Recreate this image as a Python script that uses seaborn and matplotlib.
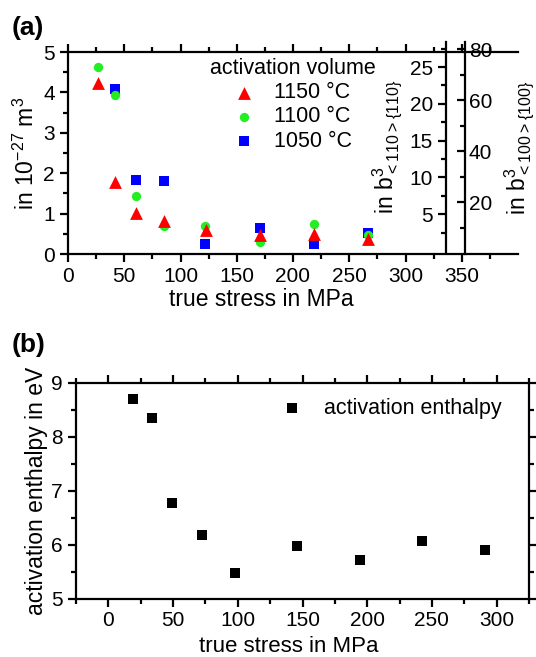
import numpy as np
import pandas as pd
import matplotlib
matplotlib.use("Agg")
import matplotlib.pyplot as plt
from matplotlib.ticker import MultipleLocator, FixedLocator
import seaborn as sns

# ---- data ----
temps = ["1150 °C", "1100 °C", "1050 °C"]
stress_1150 = [26.3, 41.6, 60.8, 85.0, 122.7, 170.8, 218.6, 267.0]
vol_1150 = [4.24, 1.79, 1.01, 0.82, 0.59, 0.47, 0.49, 0.38]
stress_1100 = [26.3, 41.6, 60.8, 85.0, 121.8, 170.8, 218.6, 267.0]
vol_1100 = [4.62, 3.94, 1.44, 0.69, 0.70, 0.29, 0.74, 0.46]
stress_1050 = [41.6, 60.8, 85.0, 121.8, 170.8, 218.6, 267.0]
vol_1050 = [4.08, 1.82, 1.80, 0.25, 0.64, 0.24, 0.51]

stress_b = [19.3, 33.9, 48.8, 72.4, 97.6, 145.9, 194.4, 242.7, 291.0]
enthalpy_b = [8.71, 8.35, 6.77, 6.19, 5.48, 5.99, 5.73, 6.08, 5.91]

colors = {"1150 °C": "#ff0000", "1100 °C": "#22ee22", "1050 °C": "#0000ff"}
markers = {"1150 °C": "^", "1100 °C": "o", "1050 °C": "s"}
sizes_pt = {"1150 °C": 85, "1100 °C": 45, "1050 °C": 55}

df_a = pd.concat([
    pd.DataFrame({"stress": stress_1150, "vol": vol_1150, "T": temps[0]}),
    pd.DataFrame({"stress": stress_1100, "vol": vol_1100, "T": temps[1]}),
    pd.DataFrame({"stress": stress_1050, "vol": vol_1050, "T": temps[2]}),
], ignore_index=True)
df_b = pd.DataFrame({"stress": stress_b, "H": enthalpy_b})

sns.set_style("ticks")
plt.rcParams["font.family"] = ["Liberation Sans", "DejaVu Sans"]
plt.rcParams["mathtext.default"] = "regular"
plt.rcParams["axes.linewidth"] = 1.6
for k in ["text.color", "axes.labelcolor", "xtick.color", "ytick.color",
          "xtick.labelcolor", "ytick.labelcolor", "axes.edgecolor"]:
    plt.rcParams[k] = "black"

W, H = 536, 657
fig = plt.figure(figsize=(W / 100, H / 100), dpi=100)

def fr(l, t, r, b):
    return [l / W, 1 - b / H, (r - l) / W, (b - t) / H]

TICK = 15
LAB = 16.5

# ---------------- panel (a) ----------------
ax = fig.add_axes(fr(68, 52, 518, 254))
for T in temps[::-1]:   # blue drawn first, red on top
    sub = df_a[df_a["T"] == T]
    sns.scatterplot(data=sub, x="stress", y="vol", ax=ax, color=colors[T],
                    marker=markers[T], s=sizes_pt[T], linewidth=0, label=T)
ax.set_xlim(0, 400)
ax.set_ylim(0, 5)
ax.xaxis.set_major_locator(FixedLocator(np.arange(0, 351, 50)))
ax.xaxis.set_minor_locator(FixedLocator(np.arange(25, 400, 25)))
ax.yaxis.set_major_locator(MultipleLocator(1))
ax.yaxis.set_minor_locator(MultipleLocator(0.5))
ax.spines["right"].set_visible(False)
ax.tick_params(which="both", direction="out", top=True, width=1.6, labelsize=TICK, color="black")
ax.tick_params(which="major", length=6)
ax.tick_params(which="minor", length=3.5)
ax.set_xlabel("true stress in MPa", fontsize=LAB)
ax.xaxis.set_label_coords(0.43, -0.17)
ax.set_ylabel(r"in 10$^{-27}$ m$^3$", fontsize=LAB, labelpad=3)
h, l = ax.get_legend_handles_labels()
order = [l.index(t) for t in temps]
ax.legend([h[i] for i in order], [l[i] for i in order], title="activation volume",
          loc="upper left",
          bbox_to_anchor=(210 / W, 1 - 58 / H), bbox_transform=fig.transFigure,
          frameon=False, fontsize=15.5, title_fontsize=15.5, borderpad=0,
          handlelength=1.0, handletextpad=0.9, labelspacing=0.15, borderaxespad=0)

# secondary scale 1: b^3 <110>{110}
ax1 = fig.add_axes(fr(446, 42, 447, 252))
ax1.set_ylim(-0.14, 28.4)
ax1.set_xticks([])
for s in ["right", "top", "bottom"]:
    ax1.spines[s].set_visible(False)
ax1.patch.set_visible(False)
ax1.yaxis.set_major_locator(FixedLocator([5, 10, 15, 20, 25]))
ax1.yaxis.set_minor_locator(FixedLocator([2.5, 7.5, 12.5, 17.5, 22.5, 27.5]))
ax1.tick_params(which="both", direction="out", width=1.6, labelsize=TICK)
ax1.tick_params(which="major", length=6)
ax1.tick_params(which="minor", length=3.5)
ax1.set_ylabel(r"in b$^3_{<110>\{110\}}$", fontsize=LAB, labelpad=3)

# secondary scale 2: b^3 <100>{100}
ax2 = fig.add_axes(fr(463.5, 42, 464.5, 254))
ax2.set_ylim(-0.3, 82.9)
ax2.set_xticks([])
for s in ["left", "top", "bottom"]:
    ax2.spines[s].set_visible(False)
ax2.patch.set_visible(False)
ax2.yaxis.tick_right()
ax2.yaxis.set_label_position("right")
ax2.yaxis.set_major_locator(FixedLocator([20, 40, 60, 80]))
ax2.yaxis.set_minor_locator(FixedLocator([10, 30, 50, 70]))
ax2.tick_params(which="both", direction="in", width=1.6, labelsize=TICK, pad=3)
ax2.tick_params(which="major", length=6)
ax2.tick_params(which="minor", length=3.5)
ax2.set_ylabel(r"in b$^3_{<100>\{100\}}$", fontsize=LAB, labelpad=8)

fig.text(12 / W, 1 - 28 / H, "(a)", fontsize=19, fontweight="bold", va="center", ha="left")

# ---------------- panel (b) ----------------
bx = fig.add_axes(fr(76, 383, 529, 599))
sns.scatterplot(data=df_b, x="stress", y="H", ax=bx, color="black", marker="s",
                s=55, linewidth=0, label="activation enthalpy")
bx.set_xlim(-25, 325)
bx.set_ylim(5, 9)
bx.xaxis.set_major_locator(FixedLocator(np.arange(0, 301, 50)))
bx.xaxis.set_minor_locator(FixedLocator(np.arange(-25, 326, 25)))
bx.yaxis.set_major_locator(MultipleLocator(1))
bx.yaxis.set_minor_locator(MultipleLocator(0.5))
bx.tick_params(which="both", direction="out", top=True, right=True, width=1.6,
               labelsize=TICK, color="black")
bx.tick_params(which="major", length=6)
bx.tick_params(which="minor", length=3.5)
bx.tick_params(axis="x", pad=2.5)
bx.set_xlabel("true stress in MPa", fontsize=16)
bx.xaxis.set_label_coords(0.47, -0.17)
bx.set_ylabel("activation enthalpy in eV", fontsize=LAB, labelpad=2)
bx.legend(loc="upper left", bbox_to_anchor=(281 / W, 1 - 398 / H),
          bbox_transform=fig.transFigure, frameon=False, fontsize=15.5,
          borderpad=0, handlelength=1.0, handletextpad=1.0, borderaxespad=0)

fig.text(12 / W, 1 - 345 / H, "(b)", fontsize=19, fontweight="bold", va="center", ha="left")

fig.savefig("out.png", dpi=100)
